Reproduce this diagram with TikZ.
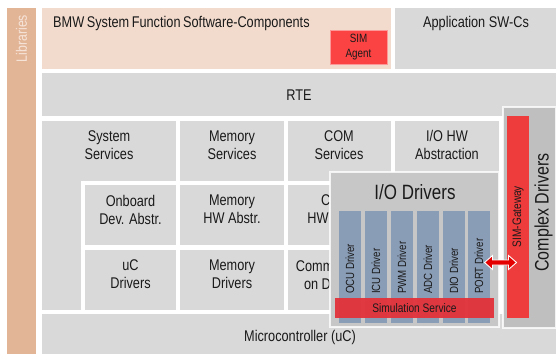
\documentclass[tikz,border=0pt]{standalone}
\usepackage{fontspec}
\setmainfont{Liberation Sans}[FakeStretch=0.82]
\usetikzlibrary{calc}

\definecolor{boxgray}{HTML}{D9D9D9}
\definecolor{swcpink}{HTML}{F2DBCD}
\definecolor{libtan}{HTML}{E3B597}
\definecolor{libtext}{HTML}{F6E4D9}
\definecolor{agentred}{HTML}{FC4343}
\definecolor{gatered}{HTML}{EE3B3B}
\definecolor{simred}{HTML}{E3323A}
\definecolor{iogray}{HTML}{C7C7C7}
\definecolor{cddgray}{HTML}{BFBFBF}
\definecolor{drvblue}{HTML}{8A9DB6}
\definecolor{ink}{HTML}{1A1A1A}

\newcommand{\tightspaces}{\spaceskip=2.6pt plus 1pt\relax}

\tikzset{
  blk/.style={rectangle, inner sep=0pt, outer sep=0pt, anchor=north west, draw=none},
  glow/.style={draw=white, line width=2.6pt, draw opacity=0.8},
  lbl/.style={text=ink, align=center, inner sep=0pt, font=\fontsize{15.5}{18}\selectfont},
  drvlbl/.style={text=ink, inner sep=0pt, rotate=90, anchor=west, font=\fontsize{11.8}{13}\selectfont},
}

\begin{document}
\begin{tikzpicture}[x=1pt, y=-1pt]
\useasboundingbox (0,0) rectangle (556,354);
\fill[white] (0,0) rectangle (556,354);

% libraries bar
\node[blk, fill=libtan, minimum width=29, minimum height=346] (lib) at (7,8) {};
\node[text=libtext, rotate=90, inner sep=0pt, font=\fontsize{15}{18}\selectfont] (libt) at (21.5,38.5) {Libraries};

% application layer
\node[blk, fill=swcpink, minimum width=349, minimum height=61] (bmw) at (42,8) {};
\node[text=ink, anchor=west, inner sep=0pt, font=\fontsize{15.5}{18}\selectfont\tightspaces] (bmwt) at (53,23) {BMW System Function Software-Components};
\node[blk, fill=agentred, draw=agentred!55!white, line width=0.6pt, minimum width=57, minimum height=34] (agent) at (330,30) {};
\node[text=ink, align=center, inner sep=0pt, font=\fontsize{12}{15}\selectfont] (agentt) at (agent.center) {SIM\\Agent};
\node[blk, fill=boxgray, minimum width=161, minimum height=61] (app) at (395,8) {};
\node[lbl] (appt) at (476,23) {Application SW-Cs};

% RTE
\node[blk, fill=boxgray, minimum width=514, minimum height=43] (rte) at (42,73) {};
\node[lbl] (rtet) at (299,95) {RTE};

% basic software columns
\node[blk, fill=boxgray, minimum width=134, minimum height=189] (sys) at (42,121) {};
\fill[white] (81,181) rectangle (176,310);
\node[blk, fill=boxgray, minimum width=91, minimum height=60] (onb) at (85,185) {};
\node[blk, fill=boxgray, minimum width=91, minimum height=60] (ucd) at (85,250) {};
\node[blk, fill=boxgray, minimum width=104, minimum height=60] (mems) at (180,121) {};
\node[blk, fill=boxgray, minimum width=104, minimum height=60] (memhw) at (180,185) {};
\node[blk, fill=boxgray, minimum width=104, minimum height=60] (memd) at (180,250) {};
\node[blk, fill=boxgray, minimum width=103, minimum height=60] (coms) at (288,121) {};
\node[blk, fill=boxgray, minimum width=103, minimum height=60] (comhw) at (288,185) {};
\node[blk, fill=boxgray, minimum width=103, minimum height=60] (comd) at (288,250) {};
\node[blk, fill=boxgray, minimum width=104, minimum height=60] (iohw) at (395,121) {};
\node[blk, fill=boxgray, minimum width=104, minimum height=60] (iohw2) at (395,185) {};
\node[blk, fill=boxgray, minimum width=104, minimum height=60] (iohw3) at (395,250) {};

\node[lbl] (syst) at (109,145) {System\\Services};
\node[lbl] (onbt) at (130.5,209.5) {Onboard\\Dev. Abstr.};
\node[lbl] (ucdt) at (130.5,274.5) {uC\\Drivers};
\node[lbl] (memst) at (232,145) {Memory\\Services};
\node[lbl] (memhwt) at (232,209.5) {Memory\\HW Abstr.};
\node[lbl] (memdt) at (232,274.5) {Memory\\Drivers};
\node[lbl] (comst) at (339,145) {COM\\Services};
\node[lbl] (comhwt) at (336,209.5) {COM\\HW Abstr.};
\node[lbl] (comdt) at (333,274.5) {Communicati\\on Drivers};
\node[lbl] (iohwt) at (447,145) {I/O HW\\Abstraction};

% microcontroller
\node[blk, fill=boxgray, minimum width=514, minimum height=40] (mcu) at (42,314) {};
\node[lbl] (mcut) at (300,337) {Microcontroller (uC)};

% complex drivers
\node[blk, fill=cddgray, glow, minimum width=53, minimum height=221] (cdd) at (503,107) {};
\node[text=ink, rotate=90, inner sep=0pt, font=\fontsize{19.5}{22}\selectfont] (cddt) at (543.5,212.5) {Complex Drivers};
\node[blk, fill=gatered, minimum width=22, minimum height=202] (gw) at (507,116) {};
\node[text=ink, rotate=90, inner sep=0pt, font=\fontsize{12.3}{14}\selectfont] (gwt) at (518,216.5) {SIM-Gateway};

% I/O drivers
\node[blk, fill=iogray, glow, minimum width=169, minimum height=155] (iod) at (330,172) {};
\node[text=ink, inner sep=0pt, font=\fontsize{20.7}{24}\selectfont] (iodt) at (415,192) {I/O Drivers};
\foreach \n/\x/\t in {ocu/339/OCU Driver, icu/365/ICU Driver, pwm/391/PWM Driver,
                      adc/417/ADC Driver, dio/443/DIO Driver, port/468/PORT Driver}{
  \node[blk, fill=drvblue, minimum width=22, minimum height=112] (\n) at (\x,211) {};
  \node[drvlbl] (\n t) at (\x+11,294) {\t};
}
\node[blk, fill=simred, fill opacity=0.95, minimum width=159, minimum height=20] (sim) at (335,298) {};
\node[text=ink, inner sep=0pt, font=\fontsize{12.4}{14}\selectfont] (simt) at (sim.center) {Simulation Service};

% link between simulation service and gateway
\coordinate (mid) at ($(sim.east)!0.5!(gw.west)$);
\fill[red!90!black, draw=white, line width=0.9pt, line join=miter]
  ($(mid)+(-16,0)$) -- ++(8,-7) -- ++(0,4.5) -- ++(16,0) -- ++(0,-4.5)
  -- ($(mid)+(16,0)$) -- ++(-8,7) -- ++(0,-4.5) -- ++(-16,0) -- ++(0,4.5) -- cycle;
\end{tikzpicture}
\end{document}
